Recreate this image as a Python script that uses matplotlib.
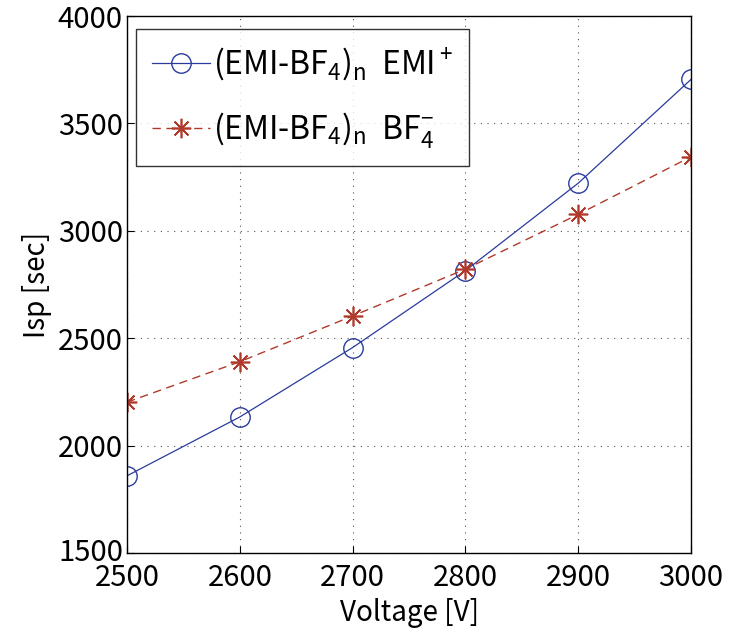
import matplotlib
matplotlib.use("Agg")
import matplotlib.pyplot as plt
import matplotlib.transforms as mtransforms

voltage = [2500, 2600, 2700, 2800, 2900, 3000]
isp_emi = [1860, 2134, 2457, 2815, 3222, 3705]
isp_bf4 = [2203, 2391, 2604, 2822, 3077, 3345]
label_emi = r"(EMI-BF$_4$)$_n$  EMI$^+$"
label_bf4 = r"(EMI-BF$_4$)$_n$  BF$_4^{-}$"
xticks = [2500, 2600, 2700, 2800, 2900, 3000]
yticks = [1500, 2000, 2500, 3000, 3500, 4000]

plt.rcParams['font.family'] = ['Noto Sans CJK JP', 'DejaVu Sans']
plt.rcParams['mathtext.fontset'] = 'custom'
plt.rcParams['mathtext.rm'] = 'Noto Sans CJK JP'
plt.rcParams['mathtext.it'] = 'Noto Sans CJK JP'

fig = plt.figure(figsize=(7.30, 6.41), dpi=100)
ax = fig.add_axes([0.174, 0.137, 0.7726, 0.838])

ax.plot(voltage, isp_emi, '-', color='#2a3b9c', lw=0.9, marker='o', ms=14,
        mfc='none', mec='#2a3b9c', mew=1.0, label=label_emi)
ax.plot(voltage, isp_bf4, '--', color='#b0392c', lw=1.0, dashes=(6, 4), marker=(8, 2, 0), ms=14,
        mfc='none', mec='#b0392c', mew=1.2, label=label_bf4)

ax.set_xlim(2500, 3000)
ax.set_ylim(1500, 4000)
ax.set_xticks(xticks)
ax.set_yticks(yticks)
ax.tick_params(direction='in', length=5, labelsize=21)
ax.tick_params(axis='x', pad=7)
ax.tick_params(axis='y', pad=3)
ax.grid(True, linestyle=(0, (1, 5)), color='#555555', lw=0.8)
for s in ax.spines.values():
    s.set_linewidth(1.0)

# raise the lowest y tick label slightly, as in the reference
fig.canvas.draw()
lbl = ax.get_yticklabels()[0]
lbl.set_transform(lbl.get_transform() + mtransforms.ScaledTranslation(0, 4 / 100, fig.dpi_scale_trans))

ax.set_xlabel("Voltage [V]", fontsize=20, labelpad=4)
ax.set_ylabel("Isp [sec]", fontsize=20, labelpad=4)

leg = ax.legend(loc='upper left', bbox_to_anchor=(0.016, 0.976), borderaxespad=0,
                fontsize=23, frameon=True, fancybox=False, edgecolor='black',
                handlelength=1.8, handletextpad=0.1, labelspacing=0.85, borderpad=0.5)
leg.get_frame().set_linewidth(1.0)

fig.savefig("out.png", dpi=100)
